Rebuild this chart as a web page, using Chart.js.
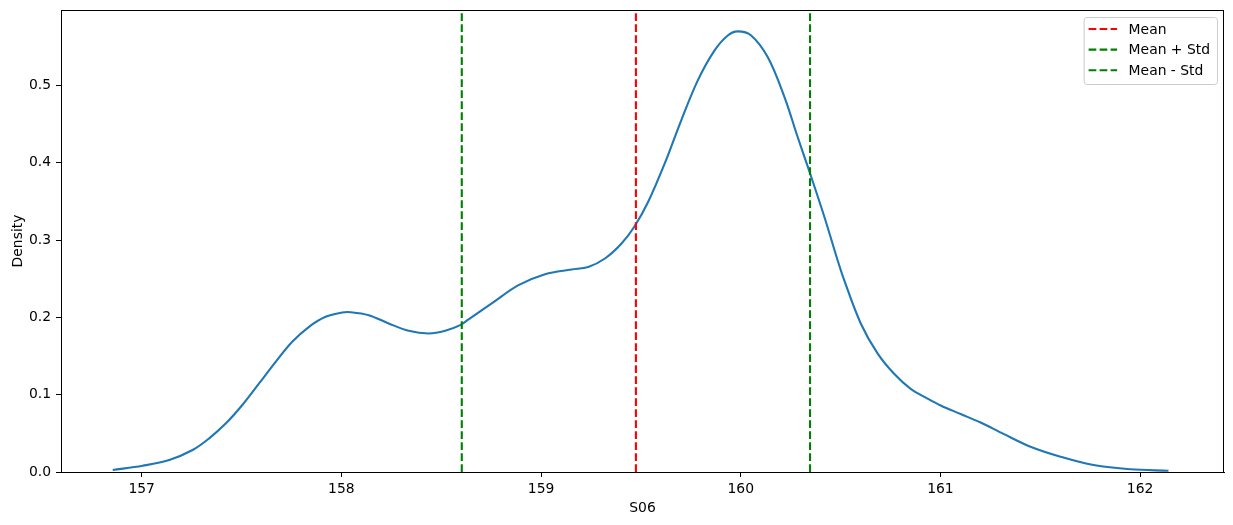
<!DOCTYPE html>
<html>
<head>
<meta charset="utf-8">
<script src="https://cdn.jsdelivr.net/npm/chart.js@4.4.0/dist/chart.umd.min.js"></script>
<style>
  html, body { margin: 0; padding: 0; background: #fff; }
</style>
</head>
<body>
<canvas id="myChart" width="1233" height="525"></canvas>
<script>
// KDE curve of S06
const s06 = [156.855, 157.005, 157.138, 157.255, 157.338, 157.422, 157.504, 157.588, 157.671, 157.754,
    157.838, 157.921, 158.004, 158.046, 158.137, 158.237, 158.337, 158.437, 158.520, 158.595,
    158.637, 158.753, 158.887, 159.020, 159.153, 159.236, 159.320, 159.403, 159.466, 159.536,
    159.619, 159.702, 159.785, 159.869, 159.935, 159.985, 160.052, 160.135, 160.219, 160.285,
    160.339, 160.419, 160.485, 160.518, 160.601, 160.685, 160.768, 160.851, 160.935, 161.001,
    161.101, 161.201, 161.318, 161.451, 161.601, 161.767, 161.950, 162.142];
const density = [0.0026, 0.0081, 0.0155, 0.0284, 0.0435, 0.0629, 0.0866, 0.1146, 0.1425, 0.1684,
    0.1878, 0.2007, 0.2063, 0.2067, 0.2028, 0.1921, 0.1826, 0.1792, 0.1826, 0.1899,
    0.1973, 0.2180, 0.2416, 0.2558, 0.2619, 0.2652, 0.2761, 0.2955, 0.3169, 0.3492,
    0.3988, 0.4548, 0.5065, 0.5452, 0.5646, 0.5698, 0.5646, 0.5366, 0.4849, 0.4332,
    0.3924, 0.3298, 0.2739, 0.2481, 0.1921, 0.1534, 0.1270, 0.1075, 0.0950, 0.0860,
    0.0750, 0.0640, 0.0490, 0.0327, 0.0198, 0.0090, 0.0035, 0.0017];

const meanValue = 159.475;
const meanPlusStd = 160.347;
const meanMinusStd = 158.603;

const xTicks = [157, 158, 159, 160, 161, 162];
const yTicks = [0.0, 0.1, 0.2, 0.3, 0.4, 0.5];
const xRange = [156.596, 162.42];
const yRange = [0, 0.5975];

const font = '"DejaVu Sans", sans-serif';
const fontSize = 13.9;

function vline(x) {
    return [{ x: x, y: yRange[0] }, { x: x, y: yRange[1] }];
}

// matplotlib-style frame round the plot
const frame = {
    id: 'frame',
    afterDatasetsDraw(chart) {
        const a = chart.chartArea;
        const c = chart.ctx;
        c.save();
        c.strokeStyle = '#000';
        c.lineWidth = 1;
        c.strokeRect(Math.round(a.left) + 0.5, Math.round(a.top) + 0.5,
            Math.round(a.right - a.left) - 1, Math.round(a.bottom - a.top));
        c.restore();
    }
};

// legend box in the top right corner of the plot
const boxLegend = {
    id: 'boxLegend',
    afterDraw(chart) {
        const a = chart.chartArea;
        const c = chart.ctx;
        const items = chart.data.datasets.filter(d => d.inLegend);
        c.save();
        c.font = fontSize + 'px ' + font;
        const textW = Math.max(...items.map(d => c.measureText(d.label).width));
        const w = 45 + textW + 7;
        const h = 67;
        const left = a.right - 7 - w;
        const top = a.top + 7;
        c.beginPath();
        c.roundRect(left + 0.5, top + 0.5, w, h, 3);
        c.fillStyle = 'rgba(255,255,255,0.8)';
        c.fill();
        c.strokeStyle = '#cccccc';
        c.lineWidth = 1;
        c.stroke();
        items.forEach((d, i) => {
            const y = top + 12 + i * 20.6;
            c.beginPath();
            c.setLineDash(d.borderDash);
            c.strokeStyle = d.borderColor;
            c.lineWidth = d.borderWidth;
            c.moveTo(left + 5, y);
            c.lineTo(left + 33.5, y);
            c.stroke();
            c.setLineDash([]);
            c.fillStyle = '#000';
            c.textBaseline = 'middle';
            c.textAlign = 'left';
            c.fillText(d.label, left + 45, y + 1);
        });
        c.restore();
    }
};

window.addEventListener('load', setup);

function setup() {
    const ctx = document.getElementById('myChart').getContext('2d');
    const dash = [7.7, 3.3];
    new Chart(ctx, {
        type: 'scatter',
        data: {
            datasets: [{
                label: 'S06',
                data: s06.map((x, i) => ({ x: x, y: density[i] })),
                showLine: true,
                borderColor: '#1f77b4',
                borderWidth: 2.1,
                pointRadius: 0,
                tension: 0.35,
                order: 2
            }, {
                label: 'Mean',
                data: vline(meanValue),
                showLine: true,
                borderColor: '#ff0000',
                borderWidth: 2.1,
                borderDash: dash,
                pointRadius: 0,
                inLegend: true,
                order: 1
            }, {
                label: 'Mean + Std',
                data: vline(meanPlusStd),
                showLine: true,
                borderColor: '#008000',
                borderWidth: 2.1,
                borderDash: dash,
                pointRadius: 0,
                inLegend: true,
                order: 1
            }, {
                label: 'Mean - Std',
                data: vline(meanMinusStd),
                showLine: true,
                borderColor: '#008000',
                borderWidth: 2.1,
                borderDash: dash,
                pointRadius: 0,
                inLegend: true,
                order: 1
            }]
        },
        options: {
            responsive: false,
            animation: false,
            layout: { padding: { top: 10, right: 9, left: 0, bottom: 0 } },
            plugins: {
                legend: { display: false },
                tooltip: { enabled: false }
            },
            scales: {
                x: {
                    type: 'linear',
                    min: xRange[0],
                    max: xRange[1],
                    afterBuildTicks: s => { s.ticks = xTicks.map(v => ({ value: v })); },
                    afterFit: s => { s.height = 53; s.paddingLeft = 0; s.paddingRight = 0; },
                    grid: { drawOnChartArea: false, drawTicks: true, tickLength: 5, color: '#000' },
                    border: { display: true, color: '#000' },
                    ticks: {
                        color: '#000',
                        padding: 4,
                        maxRotation: 0,
                        font: { family: font, size: fontSize },
                        callback: v => String(v)
                    },
                    title: {
                        display: true,
                        text: 'S06',
                        color: '#000',
                        padding: { top: 2, bottom: 8 },
                        font: { family: font, size: fontSize }
                    }
                },
                y: {
                    type: 'linear',
                    min: yRange[0],
                    max: yRange[1],
                    afterBuildTicks: s => { s.ticks = yTicks.map(v => ({ value: v })); },
                    afterFit: s => { s.width = 61; s.paddingTop = 0; s.paddingBottom = 0; },
                    grid: { drawOnChartArea: false, drawTicks: true, tickLength: 5, color: '#000' },
                    border: { display: true, color: '#000' },
                    ticks: {
                        color: '#000',
                        padding: 5,
                        font: { family: font, size: fontSize },
                        callback: v => v.toFixed(1)
                    },
                    title: {
                        display: true,
                        text: 'Density',
                        color: '#000',
                        padding: { top: 10, bottom: 0 },
                        font: { family: font, size: fontSize }
                    }
                }
            }
        },
        plugins: [frame, boxLegend]
    });
}
</script>
</body>
</html>
